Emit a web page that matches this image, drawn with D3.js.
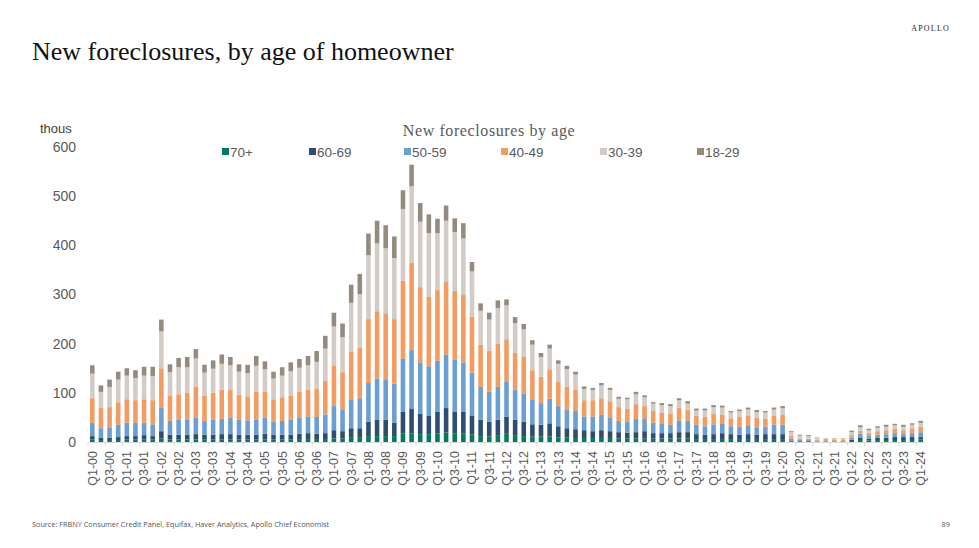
<!DOCTYPE html>
<html>
<head>
<meta charset="utf-8">
<title>New foreclosures, by age of homeowner</title>
<script src="https://d3js.org/d3.v7.min.js"></script>
<style>
  body { margin: 0; background: #fff; }
  svg { display: block; }
</style>
</head>
<body>
<script>
// quarters Q1-00 .. Q1-24
var quarters = [
  "Q1-00","Q2-00","Q3-00","Q4-00","Q1-01","Q2-01","Q3-01","Q4-01",
  "Q1-02","Q2-02","Q3-02","Q4-02","Q1-03","Q2-03","Q3-03","Q4-03",
  "Q1-04","Q2-04","Q3-04","Q4-04","Q1-05","Q2-05","Q3-05","Q4-05",
  "Q1-06","Q2-06","Q3-06","Q4-06","Q1-07","Q2-07","Q3-07","Q4-07",
  "Q1-08","Q2-08","Q3-08","Q4-08","Q1-09","Q2-09","Q3-09","Q4-09",
  "Q1-10","Q2-10","Q3-10","Q4-10","Q1-11","Q2-11","Q3-11","Q4-11",
  "Q1-12","Q2-12","Q3-12","Q4-12","Q1-13","Q2-13","Q3-13","Q4-13",
  "Q1-14","Q2-14","Q3-14","Q4-14","Q1-15","Q2-15","Q3-15","Q4-15",
  "Q1-16","Q2-16","Q3-16","Q4-16","Q1-17","Q2-17","Q3-17","Q4-17",
  "Q1-18","Q2-18","Q3-18","Q4-18","Q1-19","Q2-19","Q3-19","Q4-19",
  "Q1-20","Q2-20","Q3-20","Q4-20","Q1-21","Q2-21","Q3-21","Q4-21",
  "Q1-22","Q2-22","Q3-22","Q4-22","Q1-23","Q2-23","Q3-23","Q4-23",
  "Q1-24"
];

// new foreclosures, thousands
var age70plus = [5,4,4,4,5,5,5,5, 7,5,5,5,5,5,5,5, 5,5,5,5,5,5,5,5, 6,6,6,6,7,7,10,10,
  12,12,12,12,17,17,16,16, 17,19,17,17,15,12,11,14, 18,14,12,11,11,11,9,9, 8,8,8,8,8,7,7,7,
  7,7,7,7,7,7,6,6, 6,6,6,6,6,6,6,6, 6,1,1,1,0.5,0.5,0.5,0.5, 2,4,3,4,4,4,4,4, 5];
var age60to69 = [7,5,5,6,7,7,9,7, 15,10,10,10,11,10,10,11, 11,10,10,10,12,10,10,10, 11,12,11,12,17,15,18,18,
  29,33,33,27,44,50,42,37, 44,50,44,44,39,33,30,31, 33,31,29,25,24,27,23,19, 18,16,14,16,14,13,12,13,
  15,11,11,11,13,13,10,9, 10,12,10,9,10,9,10,10, 10,2,1,1,0.5,0.5,0.5,0.5, 3,5,4,5,5,6,6,6, 5];
var age50to59 = [27,19,21,25,27,27,25,24, 47,28,30,30,33,28,30,31, 33,30,29,30,32,26,28,30, 32,33,34,38,49,43,59,61,
  79,84,81,80,108,120,104,101, 104,109,106,101,87,67,61,67, 71,61,58,51,44,50,42,37, 37,28,30,31,27,23,23,27,
  25,21,20,17,23,23,19,17, 20,20,16,16,18,15,15,19, 19,4,2,2,2,1,1,1, 4,8,5,6,7,8,6,8, 10];
var age40to49 = [50,41,41,46,48,46,48,49, 81,52,52,55,63,52,55,59, 57,51,49,57,53,46,48,50, 53,56,57,68,83,77,96,102,
  130,137,136,131,159,177,153,141, 144,149,140,137,114,86,84,88, 87,75,74,59,54,60,49,47, 44,33,33,34,34,28,26,30,
  26,24,22,23,26,22,18,19, 22,18,16,20,19,19,17,18, 20,5,3,3,2,2,2,2, 5,6,6,7,8,9,8,10, 11];
var age30to39 = [50,33,41,46,48,45,48,49, 75,47,55,52,58,46,49,53, 50,47,47,53,46,42,44,49, 49,49,55,66,79,71,100,110,
  130,138,132,124,146,156,133,130, 116,123,120,115,92,69,63,72, 69,61,56,52,40,42,36,36, 30,23,21,26,23,17,19,20,
  18,15,15,15,16,13,11,13, 13,14,12,12,13,12,12,13, 14,8,6,5,3,1,2,2, 6,7,6,7,7,7,7,7, 8];
var age18to29 = [17,13,15,16,15,16,18,19, 24,16,19,21,19,16,17,19, 17,15,17,20,16,14,17,18, 18,19,22,26,28,28,37,41,
  44,46,47,44,38,44,38,38, 29,31,28,31,19,15,14,16, 12,12,11,9,8,8,7,7, 6,5,4,5,4,4,3,5,
  4,3,4,4,4,5,4,4, 4,4,3,3,4,4,3,4, 4,2,2,2,1,2,1,1, 3,4,3,3,4,3,4,3, 4];

var seriesNames = ["70+", "60-69", "50-59", "40-49", "30-39", "18-29"];
var seriesColors = ["#037a5c", "#2f4d6e", "#6b9fd3", "#f29c62", "#d2cbc6", "#958a7e"];
var yTicks = [0, 100, 200, 300, 400, 500, 600];

var width = 979, height = 548;
var margin = {left: 88, right: 54, top: 147, bottom: 106};

var rows = quarters.map(function(q, i) {
  return {q: q, "70+": age70plus[i], "60-69": age60to69[i], "50-59": age50to59[i],
          "40-49": age40to49[i], "30-39": age30to39[i], "18-29": age18to29[i]};
});

var svg = d3.select("body").append("svg")
  .attr("width", width)
  .attr("height", height);

var x = d3.scaleBand()
  .domain(quarters)
  .range([margin.left, width - margin.right])
  .paddingInner(0.47)
  .paddingOuter(0.235);

var y = d3.scaleLinear()
  .domain([0, 600])
  .range([height - margin.bottom, margin.top]);

var color = d3.scaleOrdinal().domain(seriesNames).range(seriesColors);

var stacked = d3.stack().keys(seriesNames)(rows);

// title + brand
svg.append("text")
  .attr("x", 32).attr("y", 60)
  .attr("font-family", "Liberation Serif, serif")
  .attr("font-size", 26)
  .attr("fill", "#111")
  .text("New foreclosures, by age of homeowner");

svg.append("text")
  .attr("x", 950).attr("y", 31)
  .attr("text-anchor", "end")
  .attr("font-family", "Liberation Serif, serif")
  .attr("font-size", 8)
  .attr("letter-spacing", 1.2)
  .attr("fill", "#222")
  .text("APOLLO");

// bars
svg.append("g").selectAll("g")
  .data(stacked)
  .enter().append("g")
    .attr("fill", function(d) { return color(d.key); })
  .selectAll("rect")
  .data(function(d) { return d; })
  .enter().append("rect")
    .attr("x", function(d) { return x(d.data.q); })
    .attr("width", x.bandwidth())
    .attr("y", function(d) { return y(d[1]); })
    .attr("height", function(d) { return Math.max(0, y(d[0]) - y(d[1])); });

// y axis
var yAxis = d3.axisLeft(y).tickValues(yTicks).tickSize(0).tickPadding(0);
var gy = svg.append("g")
  .attr("transform", "translate(76,0)")
  .call(yAxis);
gy.select(".domain").remove();
gy.selectAll("text")
  .attr("font-family", "Liberation Sans, Arial, sans-serif")
  .attr("font-size", 14)
  .attr("fill", "#595959");

svg.append("text")
  .attr("x", 40).attr("y", 133)
  .attr("font-family", "Liberation Sans, Arial, sans-serif")
  .attr("font-size", 13)
  .attr("fill", "#404040")
  .text("thous");

// x axis
var xAxis = d3.axisBottom(x)
  .tickValues(quarters.filter(function(q, i) { return i % 2 === 0; }))
  .tickSize(0)
  .tickPadding(0);
var gx = svg.append("g")
  .attr("transform", "translate(0," + y(0) + ")")
  .call(xAxis);
gx.select(".domain").attr("stroke", "#d9d9d9");
gx.selectAll("text")
  .attr("font-family", "Liberation Sans, Arial, sans-serif")
  .attr("font-size", 12.5)
  .attr("fill", "#595959")
  .attr("text-anchor", "end")
  .attr("dy", "0.35em")
  .attr("transform", "translate(0,9) rotate(-90)");

// small ticks between bars
svg.append("g").selectAll("line")
  .data(quarters.filter(function(q, i) { return i % 2 === 0; }))
  .enter().append("line")
    .attr("x1", function(d) { return x(d) - x.step() * x.paddingInner() / 2; })
    .attr("x2", function(d) { return x(d) - x.step() * x.paddingInner() / 2; })
    .attr("y1", y(0)).attr("y2", y(0) + 4)
    .attr("stroke", "#d9d9d9");

// legend
svg.append("text")
  .attr("x", 489).attr("y", 136)
  .attr("text-anchor", "middle")
  .attr("font-family", "Liberation Serif, serif")
  .attr("font-size", 16)
  .attr("letter-spacing", 0.6)
  .attr("fill", "#595959")
  .text("New foreclosures by age");

var legendX = [222, 309, 404, 501, 600, 697];
var lg = svg.append("g").selectAll("g")
  .data(seriesNames)
  .enter().append("g")
    .attr("transform", function(d, i) { return "translate(" + legendX[i] + ",152)"; });
lg.append("rect")
  .attr("x", 0).attr("y", -4).attr("width", 7).attr("height", 7)
  .attr("fill", function(d) { return color(d); });
lg.append("text")
  .attr("x", 8).attr("y", 5)
  .attr("font-family", "Liberation Sans, Arial, sans-serif")
  .attr("font-size", 13.5)
  .attr("fill", "#595959")
  .text(function(d) { return d; });

// footer
svg.append("text")
  .attr("x", 32).attr("y", 527)
  .attr("font-family", "Open Sans, sans-serif")
  .attr("font-size", 7.3)
  .attr("fill", "#555")
  .text("Source: FRBNY Consumer Credit Panel, Equifax, Haver Analytics, Apollo Chief Economist");

svg.append("text")
  .attr("x", 950).attr("y", 527)
  .attr("text-anchor", "end")
  .attr("font-family", "Open Sans, sans-serif")
  .attr("font-size", 7.5)
  .attr("fill", "#555")
  .text("89");
</script>
</body>
</html>
